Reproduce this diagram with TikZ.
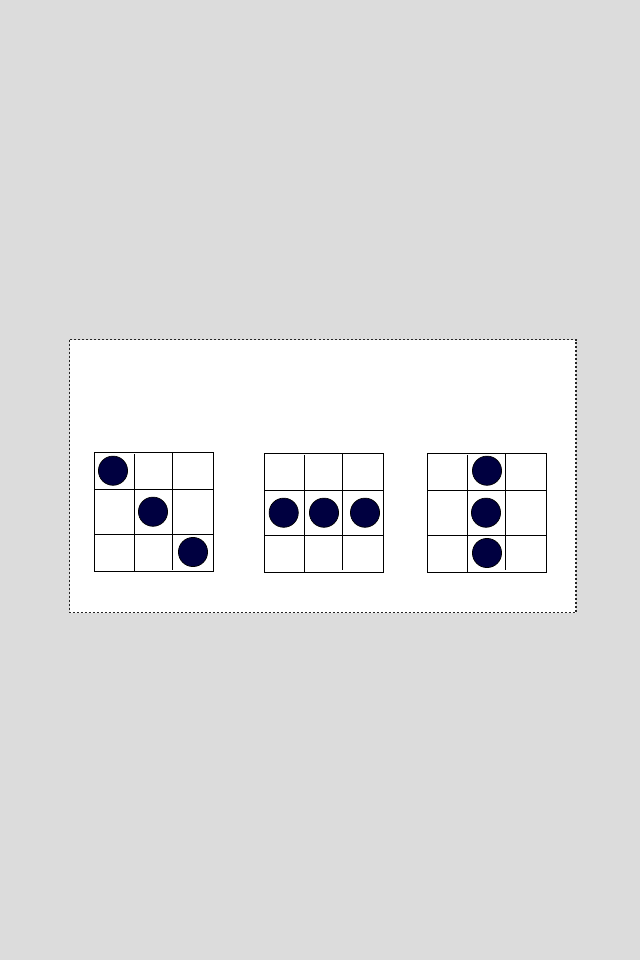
\documentclass[tikz,border=0pt]{standalone}
\definecolor{bggray}{HTML}{DCDCDC}
\definecolor{navy}{HTML}{000040}
\begin{document}
\begin{tikzpicture}[x=0.75pt,y=-0.75pt,
  gridline/.style={draw=black,line width=0.75pt},
  token/.style={fill=navy,draw=black,line width=0.5pt},
  frame/.style={fill=white,draw=black!85,line width=1.4pt,dash pattern=on 1.5pt off 1.5pt}]
\fill[bggray] (0,0) rectangle (640,960);
\useasboundingbox (0,0) rectangle (640,960);
\draw[frame] (69.5,339.5) rectangle (576,612.5);
% grid 1
\draw[gridline] (94.5,452.5) rectangle (213.5,571.5);
\draw[gridline] (134,454) -- (134,571.5);
\draw[gridline] (172.5,452.5) -- (172.5,569.5);
\draw[gridline] (94.5,489.5) -- (213.5,489.5);
\draw[gridline] (94.5,534) -- (213.5,534);
\draw[token] (113,470.7) circle (14.6);
\draw[token] (153,511.7) circle (14.6);
\draw[token] (193,552) circle (14.6);
% grid 2
\draw[gridline] (264.5,453.5) rectangle (383.5,572);
\draw[gridline] (304.5,455) -- (304.5,572);
\draw[gridline] (342.5,453.5) -- (342.5,570);
\draw[gridline] (264.5,490.5) -- (383.5,490.5);
\draw[gridline] (264.5,535.3) -- (383.5,535.3);
\draw[token] (283.7,512.7) circle (14.6);
\draw[token] (324,512.7) circle (14.6);
\draw[token] (365,512.7) circle (14.6);
% grid 3
\draw[gridline] (427.5,453.5) rectangle (546.5,572);
\draw[gridline] (467.7,455) -- (467.7,572);
\draw[gridline] (505.7,453.5) -- (505.7,570);
\draw[gridline] (427.5,490.5) -- (546.5,490.5);
\draw[gridline] (427.5,535.3) -- (546.5,535.3);
\draw[token] (487,470.7) circle (14.6);
\draw[token] (486,512.7) circle (14.6);
\draw[token] (487,553) circle (14.6);
\end{tikzpicture}
\end{document}
